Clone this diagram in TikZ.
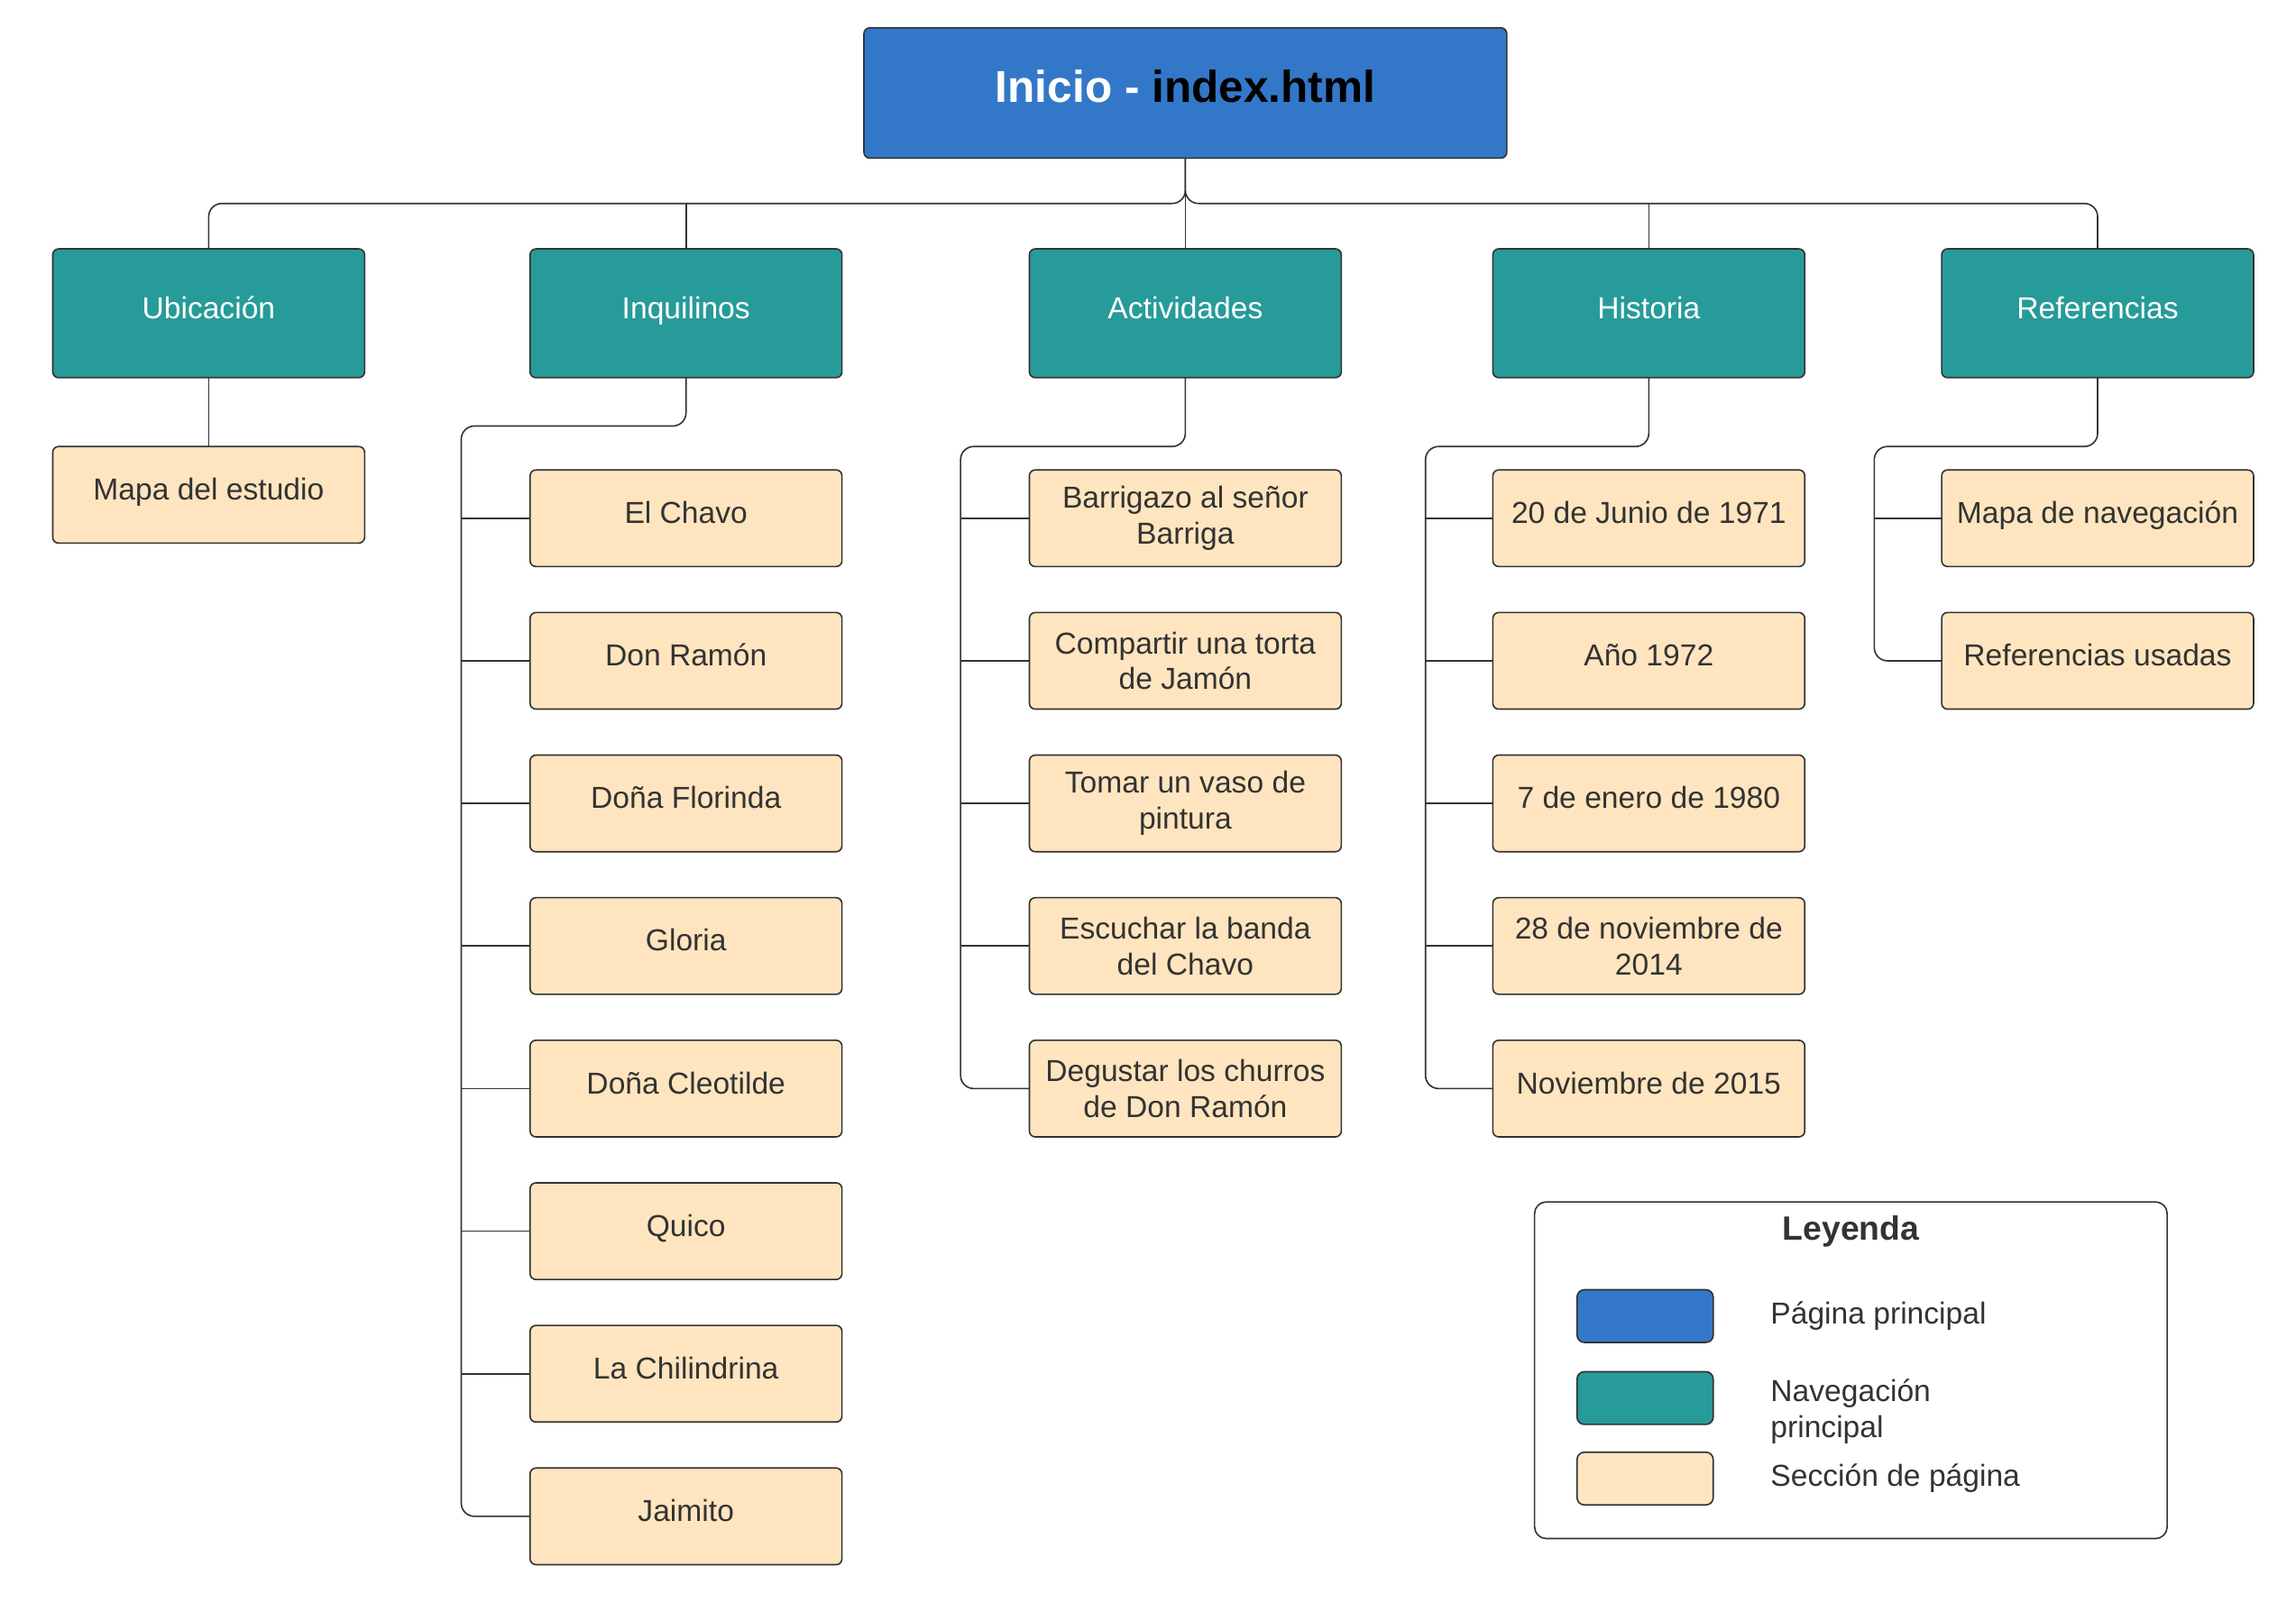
\documentclass[tikz,border=0pt]{standalone}
\usepackage{fontspec}
\setmainfont{Liberation Sans}
\usepackage{xcolor}
\usepackage{tikz}
\usetikzlibrary{positioning}

\definecolor{inicioblue}{RGB}{51,120,200}
\definecolor{navteal}{RGB}{39,155,153}
\definecolor{secpeach}{RGB}{255,229,191}
\definecolor{linegray}{RGB}{51,51,51}

\begin{document}
\begin{tikzpicture}[x=1pt,y=1pt,
        box/.style={draw=linegray, line width=1pt, rounded corners=4pt,
                    outer sep=0pt, align=center, text height=15pt,
                    text depth=8pt, font=\fontsize{20.7}{24.5}\selectfont},
        dos/.style={text height=, text depth=},
        pagina/.style={box, fill=inicioblue, minimum width=439pt,
                    minimum height=89pt, text height=22pt, text depth=9pt,
                    font=\fontsize{30.5}{36}\selectfont\bfseries},
        nav/.style={box, fill=navteal, text=white, minimum width=213pt,
                    minimum height=88pt},
        seccion/.style={box, fill=secpeach, text=linegray,
                    minimum width=213pt, minimum height=66pt},
        link/.style={draw=linegray, line width=1pt, rounded corners=9pt},
        leylabel/.style={inner sep=0pt, anchor=west, align=left,
                    text=linegray, font=\fontsize{20.7}{24.5}\selectfont}]
                \useasboundingbox (0,0) rectangle (1568,-1095);

                % pagina principal
                \node [pagina] (inicio) at (809.5,-63.5)
                                {\textcolor{white}{Inicio -} index.html};
                \coordinate (bus) at (809.5,-139);

                % navegacion principal
                \node [nav] (ubic) at (142.5,-214) {Ubicación};
                \node [nav] (inq) at (468.5,-214) {Inquilinos};
                \node [nav] (act) at (809.5,-214) {Actividades};
                \node [nav] (hist) at (1126,-214) {Historia};
                \node [nav] (refs) at (1432.5,-214) {Referencias};

                \draw [link] (inicio.south) -- (bus) -| (ubic.north);
                \draw [link] (inicio.south) -- (bus) -| (refs.north);
                \draw [link] (inicio.south) -- (act.north);
                \draw [link] (inq.north) -- (inq.north |- bus);
                \draw [link] (hist.north) -- (hist.north |- bus);

                % Ubicacion
                \node [seccion, below = 47pt of ubic] (mapa) {Mapa del estudio};
                \draw [link] (ubic.south) -- (mapa.north);

                % Inquilinos
                \node [seccion, below = 63pt of inq] (chavo) {El Chavo};
                \node [seccion, below = 31.4pt of chavo] (ramon) {Don Ramón};
                \node [seccion, below = 31.4pt of ramon] (florinda) {Doña Florinda};
                \node [seccion, below = 31.4pt of florinda] (gloria) {Gloria};
                \node [seccion, below = 31.4pt of gloria] (cleotilde) {Doña Cleotilde};
                \node [seccion, below = 31.4pt of cleotilde] (quico) {Quico};
                \node [seccion, below = 31.4pt of quico] (chilindrina) {La Chilindrina};
                \node [seccion, below = 31.4pt of chilindrina] (jaimito) {Jaimito};

                \draw [link] (inq.south) -- ++(0,-33) -| ([xshift=-47pt]jaimito.west)
                                -- (jaimito.west);
                \foreach \n in {chavo,ramon,florinda,gloria,cleotilde,quico,chilindrina}
                    \draw [link] (\n.west) -- ++(-47,0);

                % Actividades
                \node [seccion, dos, below = 63pt of act] (barrigazo) {Barrigazo al señor\\Barriga};
                \node [seccion, dos, below = 31.4pt of barrigazo] (torta) {Compartir una torta\\de Jamón};
                \node [seccion, dos, below = 31.4pt of torta] (pintura) {Tomar un vaso de\\pintura};
                \node [seccion, dos, below = 31.4pt of pintura] (banda) {Escuchar la banda\\del Chavo};
                \node [seccion, dos, below = 31.4pt of banda] (churros) {Degustar los churros\\de Don Ramón};

                \draw [link] (act.south) -- ++(0,-47) -| ([xshift=-47pt]churros.west)
                                -- (churros.west);
                \foreach \n in {barrigazo,torta,pintura,banda}
                    \draw [link] (\n.west) -- ++(-47,0);

                % Historia
                \node [seccion, below = 63pt of hist] (h1971) {20 de Junio de 1971};
                \node [seccion, below = 31.4pt of h1971] (h1972) {Año 1972};
                \node [seccion, below = 31.4pt of h1972] (h1980) {7 de enero de 1980};
                \node [seccion, dos, below = 31.4pt of h1980] (h2014) {28 de noviembre de\\2014};
                \node [seccion, below = 31.4pt of h2014] (h2015) {Noviembre de 2015};

                \draw [link] (hist.south) -- ++(0,-47) -| ([xshift=-46pt]h2015.west)
                                -- (h2015.west);
                \foreach \n in {h1971,h1972,h1980,h2014}
                    \draw [link] (\n.west) -- ++(-46,0);

                % Referencias
                \node [seccion, below = 63pt of refs] (navmapa) {Mapa de navegación};
                \node [seccion, below = 31.4pt of navmapa] (usadas) {Referencias usadas};

                \draw [link] (refs.south) -- ++(0,-47) -| ([xshift=-46pt]usadas.west)
                                -- (usadas.west);
                \draw [link] (navmapa.west) -- ++(-46,0);

                % leyenda
                \node [draw=linegray, line width=1pt, rounded corners=8pt,
                        minimum width=432pt, minimum height=230pt]
                                        (leyenda) at (1264,-936) {};
                \node [text=linegray, font=\fontsize{23}{28}\selectfont\bfseries]
                                        (leytitulo) at (1264,-841) {Leyenda};
                \node [box, fill=inicioblue, rounded corners=5pt,
                        minimum width=93pt, minimum height=36pt]
                                        (muestra1) at (1123.5,-899) {};
                \node [box, fill=navteal, rounded corners=5pt,
                        minimum width=93pt, minimum height=36pt]
                                        (muestra2) at (1123.5,-955) {};
                \node [box, fill=secpeach, rounded corners=5pt,
                        minimum width=93pt, minimum height=36pt]
                                        (muestra3) at (1123.5,-1010) {};
                \node [leylabel, right = 39pt of muestra1] (ley1) {Página principal};
                \node [leylabel, right = 39pt of muestra2, yshift=-9pt] (ley2)
                                        {Navegación\\principal};
                \node [leylabel, right = 39pt of muestra3] (ley3) {Sección de página};
\end{tikzpicture}
\end{document}
